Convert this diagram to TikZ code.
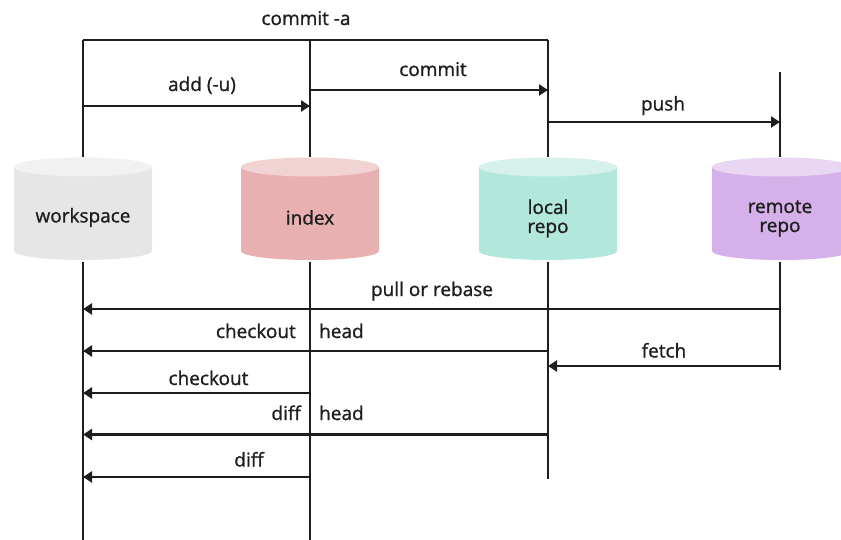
\documentclass[tikz,border=0pt]{standalone}
\usepackage{fontspec}
\setmainfont{Open Sans}
\newfontfamily\lblfont{Open Sans}[FakeBold=1.1]
\usetikzlibrary{arrows.meta}
\definecolor{ink}{HTML}{1E1E1E}
\definecolor{wsbody}{HTML}{E6E6E6}\definecolor{wstop}{HTML}{F1F1F1}
\definecolor{ixbody}{HTML}{E8B0B0}\definecolor{ixtop}{HTML}{F2D3D3}
\definecolor{lrbody}{HTML}{B2E8DB}\definecolor{lrtop}{HTML}{D7F2EC}
\definecolor{rrbody}{HTML}{D6B0E8}\definecolor{rrtop}{HTML}{E9D6F2}
% cylinder: centre x, body colour, top colour
\newcommand{\drawcyl}[3]{%
  \fill[#2] (#1-69,167) -- (#1-69,251) arc[start angle=180,end angle=0,x radius=69,y radius=9]
    -- (#1+69,167) -- cycle;
  \fill[#3] (#1,167) ellipse[x radius=69,y radius=9.5];
}
\begin{document}
\begin{tikzpicture}[x=1pt,y=-1pt,
  lifeline/.style={draw=ink,line width=2pt},
  flow/.style={draw=ink,line width=2.4pt,-{Triangle[length=9pt,width=11pt]}},
  plain/.style={draw=ink,line width=2.4pt},
  lbl/.style={font=\lblfont\fontsize{19}{21}\selectfont,text=ink,inner sep=0pt},
  dbname/.style={font=\lblfont\fontsize{19}{21}\selectfont,text=ink,align=center,
    minimum width=138pt,minimum height=60pt,inner sep=0pt}]
\useasboundingbox (0,0) rectangle (841,540);
\begin{scope}
\clip (0,0) rectangle (841,540);
\drawcyl{83}{wsbody}{wstop}
\drawcyl{310}{ixbody}{ixtop}
\drawcyl{548}{lrbody}{lrtop}
\drawcyl{781}{rrbody}{rrtop}
\end{scope}
\node[dbname] (ws) at (83,217.5) {workspace};
\node[dbname] (ix) at (310,217.5) {index};
\node[dbname] (lr) at (548,218.5) {local\\[-2pt]repo};
\node[dbname] (rr) at (780,218.5) {remote\\[-2pt]repo};
% top and bottom ends of the lifelines
\coordinate (wsT) at (83,40);  \coordinate (wsB) at (83,540);
\coordinate (ixT) at (310,40); \coordinate (ixB) at (310,540);
\coordinate (lrT) at (548,40); \coordinate (lrB) at (548,479);
\coordinate (rrT) at (780,72); \coordinate (rrB) at (780,370);
% lifelines, broken by the cylinders
\draw[lifeline] (wsT) -- (ws |- 0,157);  \draw[lifeline] (ws |- 0,262) -- (wsB);
\draw[lifeline] (ixT) -- (ix |- 0,157);  \draw[lifeline] (ix |- 0,262) -- (ixB);
\draw[lifeline] (lrT) -- (lr |- 0,157);  \draw[lifeline] (lr |- 0,262) -- (lrB);
\draw[lifeline] (rrT) -- (rr |- 0,157);  \draw[lifeline] (rr |- 0,262) -- (rrB);
% commit -a bracket
\draw[plain] (wsT) -- (lrT);
\node[lbl,anchor=base] (ca) at (306,25) {commit -a};
% forward flows
\draw[flow] (ws |- 0,106) -- (ix |- 0,106);
\node[lbl,anchor=base] (add) at (202,91) {add (-u)};
\draw[flow] (ix |- 0,90) -- (lr |- 0,90);
\node[lbl,anchor=base] (cm) at (433,76) {commit};
\draw[flow] (lr |- 0,122) -- (rr |- 0,122);
\node[lbl,anchor=base] (ps) at (663,110.5) {push};
% backward flows
\draw[flow] (rr |- 0,309) -- (ws |- 0,309);
\node[lbl,anchor=base] (pr) at (432,296) {pull or rebase};
\draw[flow] (lr |- 0,351) -- (ws |- 0,351);
\node[lbl,anchor=base east] (co1) at (296,338) {checkout};
\node[lbl,anchor=base west] (hd1) at (319,338) {head};
\draw[flow] (rr |- 0,366) -- (lr |- 0,366);
\node[lbl,anchor=base] (fe) at (664,357.5) {fetch};
\draw[flow] (ix |- 0,393) -- (ws |- 0,393);
\node[lbl,anchor=base] (co2) at (208.5,385) {checkout};
\draw[flow] (lr |- 0,434.5) -- (ws |- 0,434.5);
\node[lbl,anchor=base east] (df1) at (301,420) {diff};
\node[lbl,anchor=base west] (hd2) at (319,420) {head};
\draw[flow] (ix |- 0,477) -- (ws |- 0,477);
\node[lbl,anchor=base] (df2) at (249,466.5) {diff};
\end{tikzpicture}
\end{document}
